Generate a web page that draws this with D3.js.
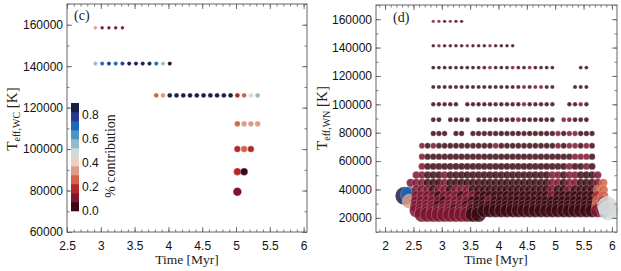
<!DOCTYPE html>
<html><head><meta charset="utf-8">
<script src="https://cdn.jsdelivr.net/npm/d3@7"></script>
<style>body{margin:0;background:#fff}svg{display:block}</style>
</head><body>
<svg id="chart" width="621" height="271"></svg>
<script>
// ---------------- DATA ----------------
// colour bins of the "% contribution" colourbar (bottom -> top)
const binColors = ["#3c0912","#7d1430","#b3282c","#cf6449","#dc9c86","#ead0c6",
                   "#d2d9dc","#92bccb","#4d92c4","#1b69bf","#293a8e","#1b1f45"];
const cbarTicks = [0.0, 0.2, 0.4, 0.6, 0.8];

// panel (c): WC stars
const leftRowT = [158489, 141254, 125893, 112202, 100000, 89125, 79433];
const leftTimes = [
  [2.92,3.02,3.12,3.22,3.32],
  [2.92,3.02,3.12,3.22,3.32,3.42,3.52,3.62,3.72,3.82,3.92,4.02],
  [3.82,3.92,4.02,4.12,4.22,4.32,4.42,4.52,4.62,4.72,4.82,4.92,5.02,5.12,5.22,5.32],
  [5.02,5.12,5.22,5.32],
  [5.02,5.12,5.22],
  [5.02,5.12],
  [5.02]
];
const leftContrib = [
  [0.36,0.10,0.10,0.10,0.10],
  [0.56,0.72,0.76,0.72,0.80,0.86,0.86,0.86,0.86,0.71,0.56,0.03],
  [0.27,0.35,0.86,0.86,0.86,0.86,0.86,0.86,0.86,0.86,0.86,0.86,0.19,0.27,0.48,0.56],
  [0.27,0.36,0.33,0.36],
  [0.20,0.27,0.15],
  [0.20,0.03],
  [0.11]
];
const leftXTicks = [2.5,3,3.5,4,4.5,5,5.5,6];
const leftYTicks = [60000,80000,100000,120000,140000,160000];

// panel (d): WN stars. Time columns (Myr):
const rightTimes = [2.25,2.35,2.45,2.55,2.65, 2.75,2.85,2.95,3.05,3.15, 3.25,3.35,3.45,3.55,3.65,
  3.75,3.85,3.95,4.05,4.15, 4.25,4.35,4.45,4.55,4.65, 4.75,4.85,4.95,5.05,5.15,
  5.25,5.35,5.45,5.55,5.65, 5.75,5.85,5.95];
const rightRowT = [158489,141254,125893,112202,100000,89125,79433,70795,63096,56234,
  50119,44668,39811,35481,31623,28184,25119,22387];
// one char per time column (spaces only group the columns by five):
// '.' = no model, otherwise the colourbar bin (hex digit 0..b) of the contribution
const rightRowCodes = [
  "..... .1101 00... ..... ..... ..... ..... ...",
  "..... .0100 00100 01000 0.... ..... ..... ...",
  "..... .0000 00000 01000 10010 000.. ..00. ...",
  "..... .0000 00000 00000 00101 100.. .000. ...",
  "..... .0000 0.000 00000 00100 000.. 0010. ...",
  "..... .00.0 000.0 00000 01000 000.1 1000. ...",
  "..... .000. 00.00 00000 00000 00010 11000 ...",
  "....1 01000 00000 00100 00000 00010 11010 ...",
  "....1 00000 00000 00000 00000 00000 01110 ...",
  "....1 00000 00000 00000 00000 00000 10010 ...",
  "...11 00010 00000 00000 00000 00110 11000 1..",
  "..111 00010 00000 00000 00000 00110 11000 13.",
  "...11 10110 11100 00000 00000 00100 10000 33.",
  "...11 11011 10110 00000 00000 00100 00000 23.",
  "...11 11101 11100 01000 00000 00000 00000 32.",
  "...11 11011 11010 00000 00000 00000 00000 31.",
  "...11 11111 01100 00000 00000 00000 00000 11.",
  "....1 11111 11100 ..... ..... ..... ..... ..."
];
// the few models with a larger stellar weight (drawn with bigger markers)
const extraTime    = [2.34, 2.41, 2.43, 5.92, 5.94];
const extraT       = [35481, 36500, 31623, 28184, 25119];
const extraContrib = [0.86, 0.72, 0.36, 0.48, 0.48];
const extraWeight  = [1.8, 1.6, 1.3, 1.6, 1.45];

const rightXTicks = [2,2.5,3,3.5,4,4.5,5,5.5,6];
const rightYTicks = [20000,40000,60000,80000,100000,120000,140000,160000];

// ---------------- DRAWING ----------------
const svg = d3.select("#chart");
const color = d3.scaleQuantize().domain([0,0.9]).range(binColors);
const tickFont = "'Liberation Sans', Arial, Helvetica, sans-serif";
const serif = "'Liberation Serif', 'Times New Roman', serif";

function frame(g, x, y, xTicks, yTicks, xMinorStep, yMinorStep) {
  const [x0,x1] = x.range(), [y1,y0] = y.range();
  const xd = x.domain(), yd = y.domain();
  const xm = d3.range(Math.ceil(xd[0]/xMinorStep-1e-9)*xMinorStep, xd[1]+1e-9, xMinorStep).map(v=>+v.toFixed(3));
  const ym = d3.range(Math.ceil(yd[0]/yMinorStep)*yMinorStep, yd[1]+1e-9, yMinorStep);
  const col = "#555";
  const addAxis = (axis, tr) => {
    const a = g.append("g").attr("transform", tr).call(axis);
    a.select(".domain").remove();
    a.selectAll("line").attr("stroke", col).attr("stroke-width", 0.8);
    a.selectAll("text").attr("font-family", tickFont).attr("font-size", 12).attr("fill", "#111");
    return a;
  };
  addAxis(d3.axisBottom(x).tickValues(xm).tickSize(-2.5).tickFormat(""), `translate(0,${y1})`);
  addAxis(d3.axisTop(x).tickValues(xm).tickSize(-2.5).tickFormat(""), `translate(0,${y0})`);
  addAxis(d3.axisLeft(y).tickValues(ym).tickSize(-2.5).tickFormat(""), `translate(${x0},0)`);
  addAxis(d3.axisRight(y).tickValues(ym).tickSize(-2.5).tickFormat(""), `translate(${x1},0)`);
  addAxis(d3.axisBottom(x).tickValues(xTicks).tickSize(-5).tickPadding(9).tickFormat(d=>String(d)), `translate(0,${y1})`);
  addAxis(d3.axisTop(x).tickValues(xTicks).tickSize(-5).tickFormat(""), `translate(0,${y0})`);
  addAxis(d3.axisLeft(y).tickValues(yTicks).tickSize(-5).tickPadding(4).tickFormat(d=>String(d)), `translate(${x0},0)`);
  addAxis(d3.axisRight(y).tickValues(yTicks).tickSize(-5).tickFormat(""), `translate(${x1},0)`);
  g.append("rect").attr("x", x0).attr("y", y0).attr("width", x1-x0).attr("height", y1-y0)
    .attr("fill", "none").attr("stroke", "#666").attr("stroke-width", 1);
}

function yTitle(g, x, yc, sub) {
  const t = g.append("text").attr("transform", `translate(${x},${yc}) rotate(-90)`)
    .attr("text-anchor", "middle").attr("font-family", serif).attr("font-size", 15).attr("fill", "#222");
  t.append("tspan").text("T");
  t.append("tspan").attr("font-size", 10).attr("dy", 3).text(sub);
  t.append("tspan").attr("dy", -3).text(" [K]");
}

function xTitle(g, xc) {
  g.append("text").attr("x", xc).attr("y", 264).attr("text-anchor", "middle").attr("font-family", serif)
    .attr("font-size", 13.5).attr("fill", "#222").text("Time [Myr]");
}

// ----- panel (c)
{
  const x = d3.scaleLinear().domain([2.5, 6.05]).range([67, 307]);
  const y = d3.scaleLinear().domain([60000, 170000]).range([232, 4]);
  const r = d3.scalePow().exponent(-1).domain([158489, 79433]).range([1.8, 4.3]);
  const g = svg.append("g");
  const pts = [];
  leftRowT.forEach((T,i) => leftTimes[i].forEach((t,j) => pts.push({t, T, c: leftContrib[i][j]})));
  g.append("g").selectAll("circle").data(pts).join("circle")
    .attr("cx", d=>x(d.t)).attr("cy", d=>y(d.T)).attr("r", d=>r(d.T))
    .attr("fill", d=>color(d.c)).attr("stroke", "#fff").attr("stroke-opacity", 0.6).attr("stroke-width", 0.5);
  frame(g, x, y, leftXTicks, leftYTicks, 0.1, 10000);
  g.append("text").attr("x", 74).attr("y", 20).attr("font-family", serif).attr("font-size", 14).attr("fill", "#222").text("(c)");
  xTitle(g, 187);
  yTitle(g, 17, 119, "eff,WC");

  // colourbar
  const cb = d3.scaleLinear().domain([0, 0.9]).range([211, 103]);
  const step = 0.9 / binColors.length;
  const cbg = g.append("g");
  cbg.selectAll("rect").data(binColors).join("rect")
    .attr("x", 71).attr("width", 8)
    .attr("y", (d,i)=>cb((i+1)*step)).attr("height", (d,i)=>cb(i*step)-cb((i+1)*step)+0.3)
    .attr("fill", d=>d);
  cbg.selectAll("text").data(cbarTicks).join("text")
    .attr("x", 82).attr("y", d=>cb(d)).attr("dy", "0.36em")
    .attr("font-family", tickFont).attr("font-size", 12).attr("fill", "#111").text(d=>d.toFixed(1));
  cbg.append("text").attr("transform", "translate(115,156) rotate(-90)").attr("text-anchor", "middle")
    .attr("font-family", serif).attr("font-size", 14).attr("fill", "#222").text("% contribution");
}

// ----- panel (d)
{
  const x = d3.scaleLinear().domain([1.84, 6.09]).range([376, 617]);
  const y = d3.scaleLinear().domain([10000, 170000]).range([232, 5]);
  const r = d3.scalePow().exponent(-1).domain([158489, 22387]).range([1.7, 7.6]);
  const g = svg.append("g");
  const pts = [];
  rightRowT.forEach((T,i) => {
    const s = rightRowCodes[i].replace(/ /g, "");
    for (let j = 0; j < rightTimes.length; j++) {
      const ch = s[j];
      if (!ch || ch === ".") continue;
      const bin = parseInt(ch, 16);
      pts.push({t: rightTimes[j], T, c: (bin + 0.5) * 0.075, w: 1});
    }
  });
  extraTime.forEach((t,i) => pts.push({t, T: extraT[i], c: extraContrib[i], w: extraWeight[i]}));
  pts.sort((a,b) => a.t - b.t || b.T - a.T);
  g.append("g").selectAll("circle").data(pts).join("circle")
    .attr("cx", d=>x(d.t)).attr("cy", d=>y(d.T)).attr("r", d=>r(d.T) * d.w)
    .attr("fill", d=>color(d.c)).attr("fill-opacity", 0.85)
    .attr("stroke", "#fff").attr("stroke-opacity", 0.45).attr("stroke-width", 0.5);
  frame(g, x, y, rightXTicks, rightYTicks, 0.1, 10000);
  g.append("text").attr("x", 393).attr("y", 22).attr("font-family", serif).attr("font-size", 14).attr("fill", "#222").text("(d)");
  xTitle(g, 496);
  yTitle(g, 327, 118, "eff,WN");
}
</script>
</body></html>
